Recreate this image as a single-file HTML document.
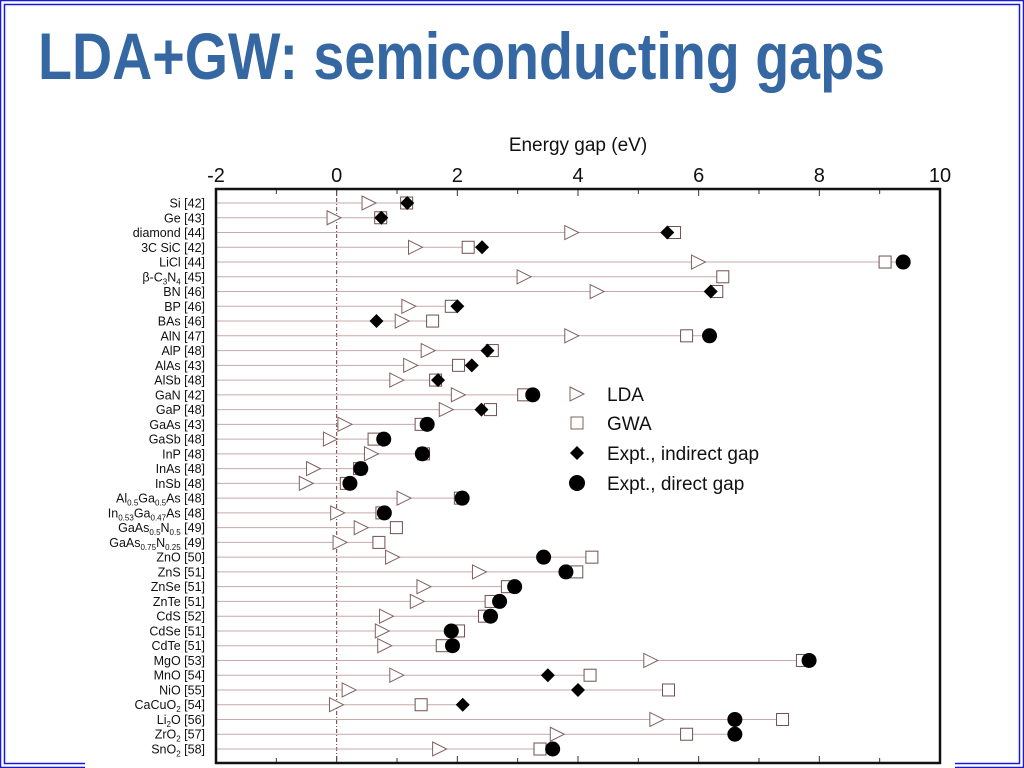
<!DOCTYPE html>
<html><head><meta charset="utf-8"><style>
html,body{margin:0;padding:0;background:#fff;}
svg{display:block;font-family:"Liberation Sans",Arial,sans-serif;}
</style></head><body>
<svg id="chart" width="1024" height="768" viewBox="0 0 1024 768" xmlns="http://www.w3.org/2000/svg">
<rect x="0.5" y="0.5" width="1023" height="767" fill="none" stroke="#1a1adc" stroke-width="1.5"/>
<rect x="4.5" y="4.5" width="1015" height="759" fill="none" stroke="#1a1adc" stroke-width="1.5"/>
<rect x="85" y="120" width="870" height="648" fill="#fff"/>
<text x="38" y="79" font-family="'Liberation Sans Narrow','Liberation Sans',sans-serif" font-weight="bold" font-size="66" fill="#3567a2" textLength="847" lengthAdjust="spacingAndGlyphs">LDA+GW: semiconducting gaps</text>
<text x="578" y="151" font-size="19" text-anchor="middle" fill="#111">Energy gap (eV)</text>
<g id="plot"></g>
<rect x="216" y="189" width="724" height="574" fill="none" stroke="#111" stroke-width="2.5"/>
<g id="legend">
  <polygon points="570,387 584,394 570,401" fill="#fff" stroke="#806060" stroke-width="1"/>
  <text x="607" y="401" font-size="19" fill="#111">LDA</text>
  <rect x="571" y="417" width="12" height="12" fill="#fff" stroke="#806060" stroke-width="1"/>
  <text x="607" y="430" font-size="19" fill="#111">GWA</text>
  <polygon points="577,446 584,453 577,460 570,453" fill="#000"/>
  <text x="607" y="460" font-size="19" fill="#111">Expt., indirect gap</text>
  <circle cx="577" cy="483" r="8" fill="#000"/>
  <text x="607" y="490" font-size="19" fill="#111">Expt., direct gap</text>
</g>
</svg>
<script>
const categories = ["Si [42]","Ge [43]","diamond [44]","3C SiC [42]","LiCl [44]","β-C3N4 [45]","BN [46]","BP [46]","BAs [46]","AlN [47]","AlP [48]","AlAs [43]","AlSb [48]","GaN [42]","GaP [48]","GaAs [43]","GaSb [48]","InP [48]","InAs [48]","InSb [48]","Al0.5Ga0.5As [48]","In0.53Ga0.47As [48]","GaAs0.5N0.5 [49]","GaAs0.75N0.25 [49]","ZnO [50]","ZnS [51]","ZnSe [51]","ZnTe [51]","CdS [52]","CdSe [51]","CdTe [51]","MgO [53]","MnO [54]","NiO [55]","CaCuO2 [54]","Li2O [56]","ZrO2 [57]","SnO2 [58]"];
const ldaValues = [0.52,-0.06,3.88,1.29,5.98,3.09,4.3,1.18,1.07,3.88,1.5,1.21,0.98,2.0,1.8,0.12,-0.12,0.56,-0.4,-0.52,1.1,0.0,0.39,0.04,0.91,2.35,1.43,1.32,0.81,0.74,0.78,5.19,0.98,0.19,-0.02,5.29,3.64,1.69];
const gwaValues = [1.16,0.73,5.6,2.18,9.09,6.4,6.3,1.9,1.59,5.8,2.58,2.02,1.64,3.1,2.55,1.4,0.62,1.44,0.38,0.16,2.05,0.75,0.99,0.7,4.23,3.98,2.83,2.56,2.45,2.02,1.75,7.72,4.2,5.5,1.4,7.39,5.8,3.37];
const exptValues = [1.17,0.74,5.48,2.41,9.39,null,6.2,2.0,0.66,6.18,2.5,2.24,1.68,3.25,2.4,1.5,0.78,1.42,0.4,0.22,2.08,0.79,null,null,3.43,3.8,2.95,2.7,2.55,1.9,1.92,7.83,3.5,4.0,2.09,6.6,6.6,3.58];
const exptType = ["i","i","i","i","d",null,"i","i","i","d","i","i","i","d","i","d","d","d","d","d","d","d",null,null,"d","d","d","d","d","d","d","d","i","i","i","d","d","d"];
const xTicks = [-2,0,2,4,6,8,10];
const xTickLabels = ["-2","0","2","4","6","8","10"];

const NS = "http://www.w3.org/2000/svg";
const X0 = 216, X1 = 940, VMIN = -2, VMAX = 10;
const xScale = v => X0 + (v - VMIN) / (VMAX - VMIN) * (X1 - X0);
const Y0 = 203, Y1 = 749;
const yScale = i => Y0 + i * (Y1 - Y0) / (categories.length - 1);
const plot = document.getElementById('plot');
function mk(tag, attrs, parent) {
  const e = document.createElementNS(NS, tag);
  for (const k in attrs) e.setAttribute(k, attrs[k]);
  (parent || plot).appendChild(e);
  return e;
}
for (let v = VMIN; v <= VMAX; v++) {
  const x = xScale(v);
  const t1 = mk('line', {x1:x, x2:x, y1:189, y2:(v%2===0?196:194), stroke:'#333', 'stroke-width':1});
  
  
  const t2 = mk('line', {x1:x, x2:x, y1:763, y2:(v%2===0?756:758), stroke:'#333', 'stroke-width':1});
  
  
}
xTicks.forEach((v, i) => {
  const t = mk('text', {x:xScale(v), y:182, 'font-size':20, 'text-anchor':'middle', fill:'#111'});
  t.textContent = xTickLabels[i];
  
  
});
const zl = mk('line', {x1:xScale(0), x2:xScale(0), y1:189, y2:763, stroke:'#6a3a3a', 'stroke-width':1, 'stroke-dasharray':'4,2,1,2'});



function addLabel(name, y) {
  const t = mk('text', {x:205, y:y+4.5, 'font-size':12.5, 'text-anchor':'end', fill:'#111'});
  
  
  const bracket = name.indexOf(' [');
  const formula = name.slice(0, bracket), ref = name.slice(bracket);
  const parts = formula.match(/[0-9.]+|[^0-9.]+/g);
  let prevSub = false;
  parts.forEach((p, idx) => {
    const ts = document.createElementNS(NS, 'tspan');
    const isSub = /^[0-9.]+$/.test(p) && idx > 0;
    ts.textContent = p;
    if (isSub) { ts.setAttribute('font-size', '8'); ts.setAttribute('dy', '3'); }
    else if (prevSub) { ts.setAttribute('dy', '-3'); }
    prevSub = isSub;
    t.appendChild(ts);
  });
  const tr = document.createElementNS(NS, 'tspan');
  tr.textContent = ref;
  if (prevSub) tr.setAttribute('dy', '-3');
  t.appendChild(tr);
}

categories.forEach((c, i) => {
  const y = yScale(i);
  addLabel(c, y);
  const vals = [ldaValues[i], gwaValues[i], exptValues[i]].filter(v => v !== null);
  const mx = Math.max(...vals);
  const ln = mk('line', {x1:X0, x2:xScale(mx), y1:y, y2:y, stroke:'#c9a9a9', 'stroke-width':1});
  
  
  const xl = xScale(ldaValues[i]);
  const tri = mk('polygon', {points:`${xl-6},${y-7} ${xl+8},${y} ${xl-6},${y+7}`, fill:'#fff', stroke:'#806060', 'stroke-width':1});
  
  
  const xg = xScale(gwaValues[i]);
  const sq = mk('rect', {x:xg-6, y:y-6, width:12, height:12, fill:'#fff', stroke:'#705050', 'stroke-width':1});
  
  
  if (exptValues[i] !== null) {
    const xe = xScale(exptValues[i]);
    if (exptType[i] === 'i') {
      const d = mk('polygon', {points:`${xe},${y-7} ${xe+7},${y} ${xe},${y+7} ${xe-7},${y}`, fill:'#000'});
      
      
    } else {
      const ci = mk('circle', {cx:xe, cy:y, r:7.5, fill:'#000'});
      
      
    }
  }
});
</script>
</body></html>
